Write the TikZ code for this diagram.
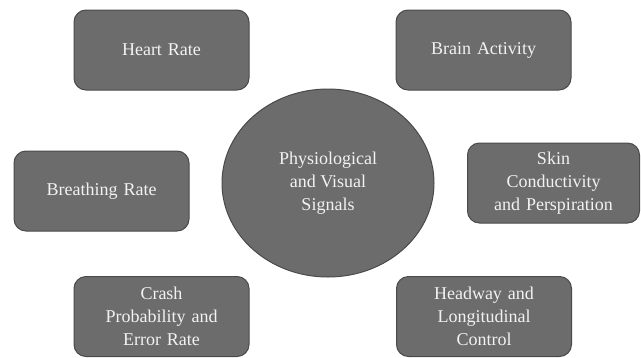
\documentclass[tikz,border=0pt]{standalone}
\usepackage{fontspec}
\setmainfont{Liberation Serif}
\usepackage{tikz}
\usetikzlibrary{shapes.geometric, positioning}
\definecolor{relleno}{RGB}{108,108,108}
\definecolor{borde}{RGB}{74,74,74}
\definecolor{letra}{RGB}{242,242,242}
\tikzset{
  senal/.style={rectangle, draw=borde, fill=relleno, rounded corners=12pt,
                line width=1pt, minimum width=175pt, minimum height=80pt,
                text width=160pt, align=center, text=letra,
                font=\fontsize{18}{23}\selectfont},
  nucleo/.style={ellipse, draw=borde, fill=relleno, line width=1pt,
                 minimum width=212pt, minimum height=188pt, inner sep=0pt,
                 align=center, text=letra, font=\fontsize{18}{23}\selectfont}
}

\begin{document}
\begin{tikzpicture}[x=1pt, y=-1pt]
    \useasboundingbox (0,0) rectangle (641,357);
    \node[nucleo] (sig) at (328,183) {Physiological\\and Visual\\Signals};
    \node[senal] (hr) at (161.5,50) {Heart Rate};
    \node[senal] (ba) at (483.5,50) {Brain Activity};
    \node[senal] (br) at (101.5,191) {Breathing Rate};
    \node[senal, minimum width=172pt] (sk) at (553.5,183)
      {Skin\\Conductivity\\and Perspiration};
    \node[senal] (cr) at (161.5,316.5) {Crash\\Probability and\\Error Rate};
    \node[senal] (hw) at (484,316.5) {Headway and\\Longitudinal\\Control};
  \end{tikzpicture}
\end{document}
